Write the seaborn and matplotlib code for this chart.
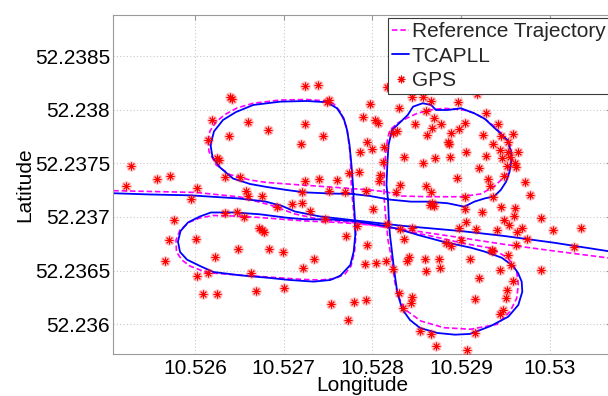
import matplotlib
matplotlib.use("Agg")
import matplotlib.pyplot as plt
from matplotlib.lines import Line2D
import pandas as pd
import seaborn as sns

# ---------------------------------------------------------------- data
# straight pass through the intersection (reference and filter estimate)
ref_pass_lon = [10.524985, 10.525493, 10.526011, 10.526507, 10.526846, 10.527127, 10.527409,
                10.527793, 10.528356, 10.528996, 10.529484, 10.530047, 10.530792]
ref_pass_lat = [52.237247, 52.237238, 52.237229, 52.237187, 52.237112, 52.237028, 52.236977,
                52.236947, 52.236885, 52.236807, 52.236745, 52.236683, 52.236604]

tca_pass_lon = [10.524985, 10.525493, 10.525944, 10.526474, 10.526789, 10.526981, 10.527127,
                10.527409, 10.527793, 10.528356, 10.528996, 10.529484, 10.530047, 10.530792]
tca_pass_lat = [52.237224, 52.237210, 52.237202, 52.237174, 52.237145, 52.237103, 52.237051,
                52.237005, 52.236969, 52.236916, 52.236869, 52.236823, 52.236760, 52.236664]

# four-leaf clover manoeuvre, reference trajectory
ref_loop_lon = [10.526147, 10.526158, 10.526240, 10.526391, 10.526620, 10.526808, 10.527184, 10.527522, 10.527714, 10.527973,
                10.528165, 10.528311, 10.528623, 10.528999, 10.529221, 10.529371, 10.529450, 10.529521, 10.529563, 10.529577,
                10.529551, 10.529484, 10.529382, 10.529258, 10.529145, 10.529033, 10.528807, 10.528649, 10.528506, 10.528390,
                10.528281, 10.528198, 10.528172, 10.528150, 10.528134, 10.528131, 10.528148, 10.528176, 10.528224, 10.528255,
                10.528294, 10.528368, 10.528545, 10.528807, 10.529108, 10.529408, 10.529551, 10.529627, 10.529645, 10.529627,
                10.529532, 10.529345, 10.529033, 10.528657, 10.528206, 10.527973, 10.527793, 10.527522, 10.527229, 10.526733,
                10.526432, 10.526203, 10.526056, 10.525940, 10.525831, 10.525786, 10.525791, 10.525853, 10.525940, 10.526132,
                10.526357, 10.526657, 10.527184, 10.527409, 10.527578, 10.527691, 10.527759, 10.527798, 10.527815, 10.527798,
                10.527776, 10.527762, 10.527751, 10.527714, 10.527638, 10.527567, 10.527488, 10.527263, 10.526958, 10.526657,
                10.526474, 10.526338, 10.526240, 10.526169, 10.526147]
ref_loop_lat = [52.237718, 52.237609, 52.237485, 52.237396, 52.237345, 52.237322, 52.237299, 52.237280, 52.237268, 52.237252,
                52.237233, 52.237196, 52.237189, 52.237189, 52.237215, 52.237283, 52.237345, 52.237408, 52.237485, 52.237562,
                52.237672, 52.237749, 52.237840, 52.237921, 52.237970, 52.237998, 52.238014, 52.237998, 52.237967, 52.237923,
                52.237874, 52.237812, 52.237734, 52.237594, 52.237438, 52.237189, 52.237019, 52.236785, 52.236574, 52.236384,
                52.236254, 52.236137, 52.236030, 52.235967, 52.235953, 52.235999, 52.236117, 52.236242, 52.236366, 52.236490,
                52.236615, 52.236708, 52.236753, 52.236823, 52.236897, 52.236925, 52.236939, 52.236953, 52.236963, 52.236995,
                52.237009, 52.237014, 52.236991, 52.236953, 52.236879, 52.236785, 52.236674, 52.236599, 52.236543, 52.236482,
                52.236466, 52.236450, 52.236419, 52.236412, 52.236426, 52.236468, 52.236543, 52.236674, 52.236832, 52.236972,
                52.237159, 52.237299, 52.237578, 52.237827, 52.237982, 52.238054, 52.238082, 52.238096, 52.238091, 52.238061,
                52.238017, 52.237956, 52.237889, 52.237802, 52.237718]

# four-leaf clover manoeuvre, TCAPLL estimate
tca_loop_lon = [10.526175, 10.526197, 10.526282, 10.526428, 10.526620, 10.526808, 10.527034, 10.527229, 10.527522, 10.527770,
                10.527973, 10.528187, 10.528435, 10.528623, 10.528849, 10.529036, 10.529149, 10.529270, 10.529371, 10.529447,
                10.529506, 10.529546, 10.529568, 10.529557, 10.529521, 10.529439, 10.529371, 10.529270, 10.529149, 10.528999,
                10.528849, 10.528717, 10.528661, 10.528567, 10.528458, 10.528398, 10.528311, 10.528221, 10.528182, 10.528170,
                10.528159, 10.528176, 10.528187, 10.528198, 10.528213, 10.528244, 10.528281, 10.528337, 10.528424, 10.528537,
                10.528732, 10.528931, 10.529100, 10.529334, 10.529532, 10.529645, 10.529690, 10.529683, 10.529642, 10.529585,
                10.529458, 10.529270, 10.529108, 10.528807, 10.528537, 10.528311, 10.528176, 10.527973, 10.527770, 10.527522,
                10.527229, 10.527034, 10.526733, 10.526451, 10.526180, 10.526056, 10.525921, 10.525837, 10.525808, 10.525831,
                10.525910, 10.526056, 10.526206, 10.526507, 10.526808, 10.527071, 10.527338, 10.527525, 10.527638, 10.527751,
                10.527789, 10.527807, 10.527804, 10.527789, 10.527781, 10.527764, 10.527742, 10.527714, 10.527676, 10.527601,
                10.527488, 10.527263, 10.526962, 10.526657, 10.526462, 10.526316, 10.526214, 10.526175]
tca_loop_lat = [52.237672, 52.237560, 52.237462, 52.237359, 52.237308, 52.237280, 52.237252, 52.237230, 52.237219, 52.237215,
                52.237196, 52.237163, 52.237143, 52.237143, 52.237128, 52.237096, 52.237143, 52.237174, 52.237191, 52.237252,
                52.237327, 52.237420, 52.237532, 52.237625, 52.237718, 52.237784, 52.237835, 52.237914, 52.237967, 52.238014,
                52.237998, 52.237998, 52.238045, 52.238061, 52.238029, 52.237951, 52.237882, 52.237812, 52.237672, 52.237516,
                52.237299, 52.237159, 52.236947, 52.236832, 52.236730, 52.236512, 52.236294, 52.236139, 52.236039, 52.235965,
                52.235918, 52.235902, 52.235909, 52.235983, 52.236070, 52.236179, 52.236303, 52.236397, 52.236478, 52.236543,
                52.236620, 52.236676, 52.236714, 52.236767, 52.236827, 52.236883, 52.236911, 52.236939, 52.236963, 52.236977,
                52.236979, 52.236993, 52.237025, 52.237042, 52.237042, 52.237005, 52.236949, 52.236869, 52.236771, 52.236674,
                52.236602, 52.236543, 52.236487, 52.236456, 52.236434, 52.236412, 52.236397, 52.236412, 52.236452, 52.236552,
                52.236676, 52.236832, 52.236972, 52.237159, 52.237299, 52.237485, 52.237672, 52.237812, 52.237921, 52.238014,
                52.238070, 52.238082, 52.238076, 52.238045, 52.237979, 52.237905, 52.237798, 52.237672]

# raw GPS fixes
gps_lon = [10.526395, 10.526417, 10.526197, 10.526603, 10.526823, 10.526387, 10.526147, 10.526248, 10.526276, 10.525275,
           10.525575, 10.525722, 10.525222, 10.526026, 10.525952, 10.526333, 10.526502, 10.526578, 10.526598, 10.526755,
           10.527244, 10.527383, 10.527488, 10.527511, 10.527244, 10.527443, 10.527198, 10.527855, 10.527733, 10.527849,
           10.527244, 10.527395, 10.527601, 10.527206, 10.527514, 10.527688, 10.527928, 10.528161, 10.528441, 10.528571,
           10.528666, 10.527976, 10.528965, 10.529183, 10.529281, 10.527891, 10.528029, 10.528063, 10.528303, 10.528604,
           10.528689, 10.528480, 10.528779, 10.528675, 10.529042, 10.528982, 10.528884, 10.528616, 10.528229, 10.528277,
           10.528847, 10.528864, 10.529247, 10.529419, 10.529450, 10.529582, 10.529529, 10.529363, 10.527943, 10.527990,
           10.528131, 10.528353, 10.528706, 10.528875, 10.529052, 10.529286, 10.529439, 10.529456, 10.529529, 10.529551,
           10.529642, 10.529608, 10.529521, 10.529622, 10.528571, 10.528120, 10.528086, 10.528074, 10.528311, 10.528601,
           10.528666, 10.528957, 10.529205, 10.529298, 10.529322, 10.529484, 10.529720, 10.529777, 10.529365, 10.529044,
           10.528266, 10.528672, 10.528695, 10.528655, 10.529047, 10.528003, 10.527297, 10.527471, 10.527708, 10.527832,
           10.527943, 10.528161, 10.528308, 10.528356, 10.528450, 10.528976, 10.529059, 10.529165, 10.529401, 10.529484,
           10.529596, 10.529540, 10.529690, 10.529634, 10.529740, 10.529901, 10.530036, 10.530357, 10.530273, 10.529622,
           10.529345, 10.528996, 10.528826, 10.528883, 10.529239, 10.529452, 10.529605, 10.527342, 10.527917, 10.528044,
           10.528150, 10.528232, 10.528387, 10.528413, 10.528593, 10.528751, 10.528762, 10.528608, 10.529100, 10.529529,
           10.529559, 10.529439, 10.529205, 10.529589, 10.529904, 10.528300, 10.528450, 10.528432, 10.528348, 10.529157,
           10.529512, 10.529506, 10.529444, 10.529478, 10.527925, 10.527798, 10.527533, 10.527727, 10.528537, 10.528657,
           10.528714, 10.529070, 10.529157, 10.529352, 10.525758, 10.525709, 10.525658, 10.526008, 10.526231, 10.526025,
           10.526152, 10.526092, 10.526250, 10.526338, 10.526479, 10.526556, 10.526485, 10.526727, 10.526755, 10.526778,
           10.526829, 10.526987, 10.526637, 10.526693, 10.526998, 10.526924, 10.527094, 10.527203, 10.527214]
gps_lat = [52.238115, 52.238101, 52.237905, 52.237882, 52.237812, 52.237760, 52.237718, 52.237546, 52.237532, 52.237476,
           52.237354, 52.237382, 52.237285, 52.237268, 52.237165, 52.237373, 52.237373, 52.237243, 52.237199, 52.237199,
           52.238222, 52.238234, 52.238073, 52.238087, 52.237865, 52.237751, 52.237678, 52.237602, 52.237413, 52.237424,
           52.237336, 52.237354, 52.237345, 52.237236, 52.237243, 52.237236, 52.237243, 52.238213, 52.238117, 52.238115,
           52.238082, 52.238054, 52.238073, 52.238145, 52.237970, 52.237936, 52.237908, 52.237877, 52.238020, 52.237989,
           52.237928, 52.237868, 52.237868, 52.237827, 52.237879, 52.237823, 52.237785, 52.237765, 52.237781, 52.237802,
           52.237704, 52.237681, 52.237762, 52.237869, 52.237758, 52.237774, 52.237702, 52.237678, 52.237702, 52.237632,
           52.237653, 52.237560, 52.237548, 52.237564, 52.237606, 52.237569, 52.237625, 52.237546, 52.237606, 52.237560,
           52.237606, 52.237508, 52.237476, 52.237466, 52.237504, 52.237516, 52.237387, 52.237336, 52.237294, 52.237289,
           52.237229, 52.237359, 52.237454, 52.237350, 52.237292, 52.237385, 52.237329, 52.237205, 52.237182, 52.237187,
           52.237230, 52.237128, 52.237098, 52.237112, 52.237075, 52.237079, 52.237056, 52.236979, 52.236823, 52.236916,
           52.236736, 52.236932, 52.236885, 52.236798, 52.236900, 52.236900, 52.236953, 52.236885, 52.236874, 52.236969,
           52.237005, 52.236921, 52.236900, 52.236857, 52.236799, 52.236988, 52.236874, 52.236900, 52.236717, 52.236743,
           52.236688, 52.236783, 52.236760, 52.236729, 52.237049, 52.237096, 52.237087, 52.236611, 52.236564, 52.236574,
           52.236590, 52.236518, 52.236590, 52.236627, 52.236611, 52.236611, 52.236527, 52.236496, 52.236605, 52.236643,
           52.236549, 52.236503, 52.236434, 52.236400, 52.236506, 52.236294, 52.236254, 52.236201, 52.236148, 52.236238,
           52.236322, 52.236244, 52.236092, 52.236128, 52.236223, 52.236207, 52.236187, 52.236037, 52.235937, 52.235906,
           52.235797, 52.235757, 52.235921, 52.236683, 52.236969, 52.236781, 52.236594, 52.236792, 52.236630, 52.236450,
           52.236480, 52.236286, 52.236286, 52.237037, 52.237051, 52.236998, 52.236699, 52.236895, 52.236879, 52.236860,
           52.236700, 52.236676, 52.236482, 52.236310, 52.236335, 52.237090, 52.237118, 52.237133, 52.236520]

xticks = [10.526, 10.527, 10.528, 10.529, 10.530]
xtick_labels = ["10.526", "10.527", "10.528", "10.529", "10.53"]
yticks = [52.2360, 52.2365, 52.2370, 52.2375, 52.2380, 52.2385]
ytick_labels = ["52.236", "52.2365", "52.237", "52.2375", "52.238", "52.2385"]

series_labels = ["Reference Trajectory", "TCAPLL", "GPS"]


def path_frame(parts):
    frames = []
    for seg, (lon, lat) in enumerate(parts):
        frames.append(pd.DataFrame({"lon": lon, "lat": lat, "segment": seg}))
    return pd.concat(frames, ignore_index=True)


ref_df = path_frame([(ref_pass_lon, ref_pass_lat), (ref_loop_lon, ref_loop_lat)])
tca_df = path_frame([(tca_pass_lon, tca_pass_lat), (tca_loop_lon, tca_loop_lat)])
gps_df = pd.DataFrame({"lon": gps_lon, "lat": gps_lat})

# ---------------------------------------------------------------- style
sns.set_style("white")
plt.rcParams["font.family"] = ["Liberation Sans", "DejaVu Sans"]

W, H = 608, 396
fig = plt.figure(figsize=(W / 100, H / 100), dpi=100)
ax_left, ax_right, ax_top, ax_bottom = 113.3, 611.0, 14.7, 354.3
ax = fig.add_axes([ax_left / W, 1 - ax_bottom / H,
                   (ax_right - ax_left) / W, (ax_bottom - ax_top) / H])

MAGENTA, BLUE, RED = "#ff00ff", "#0000ff", "#ff0000"
ref_ls = (0, (3.3, 1.7))
star = (8, 2, 0)

sns.lineplot(data=ref_df, x="lon", y="lat", units="segment", estimator=None, sort=False,
             color=MAGENTA, linewidth=1.2, linestyle=ref_ls, legend=False, ax=ax)
sns.lineplot(data=tca_df, x="lon", y="lat", units="segment", estimator=None, sort=False,
             color=BLUE, linewidth=1.3, legend=False, ax=ax)
# soft glow under each asterisk, then the asterisk itself
sns.scatterplot(data=gps_df, x="lon", y="lat", marker=star, s=30, color=RED, alpha=0.22,
                linewidth=2.2, legend=False, zorder=3, ax=ax)
sns.scatterplot(data=gps_df, x="lon", y="lat", marker=star, s=26, color=RED,
                linewidth=0.7, legend=False, zorder=4, ax=ax)

ax.set_xlim(10.525079, 10.530690)
ax.set_ylim(52.235719, 52.238887)
ax.set_xticks(xticks)
ax.set_xticklabels(xtick_labels)
ax.set_yticks(yticks)
ax.set_yticklabels(ytick_labels)

ax.set_axisbelow(True)
ax.grid(True, color="#c8c8c8", linestyle=(0, (1, 2)), linewidth=0.8)
for sp in ax.spines.values():
    sp.set_color("#9a9a9a")
    sp.set_linewidth(0.8)
    sp.set_visible(True)
ax.tick_params(axis="both", direction="in", length=3.5, width=0.8, color="#9a9a9a",
               top=True, right=True, labelsize=15, labelcolor="black")
ax.tick_params(axis="x", pad=3.5)
ax.tick_params(axis="y", pad=2.4)

ax.set_xlabel("Longitude", fontsize=15, color="black")
ax.set_ylabel("Latitude", fontsize=15, color="black")
ax.xaxis.set_label_coords(0.5, -0.0625)
ax.yaxis.set_label_coords(-0.1585, 0.5)

handles = [
    Line2D([], [], color=MAGENTA, linewidth=1.2, linestyle=ref_ls),
    Line2D([], [], color=BLUE, linewidth=1.3),
    Line2D([], [], color=RED, marker=star, linestyle="none", markersize=5.5, markeredgewidth=0.8),
]
leg = ax.legend(handles, series_labels, loc="upper left",
                bbox_to_anchor=(388 / W, 1 - 18 / H), bbox_transform=fig.transFigure,
                fontsize=15, frameon=True, fancybox=False, framealpha=1,
                edgecolor="#3a3a3a", borderpad=0.2, labelspacing=0.26,
                handlelength=0.8, handletextpad=0.15, borderaxespad=0)
leg.get_frame().set_linewidth(0.8)
leg.set_zorder(10)

fig.savefig("out.png", dpi=100)
